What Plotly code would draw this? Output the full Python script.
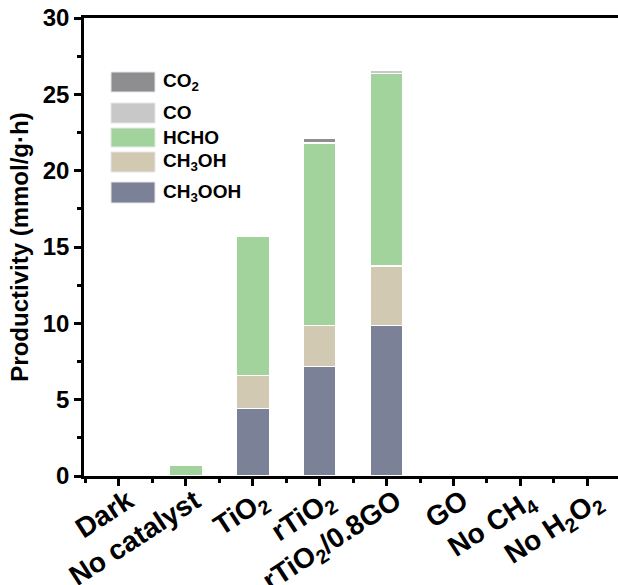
import plotly.graph_objects as go

# Reaction conditions / catalysts
categories = ["Dark", "No catalyst", "TiO<sub>2</sub>", "rTiO<sub>2</sub>",
              "rTiO<sub>2</sub>/0.8GO", "GO", "No CH<sub>4</sub>",
              "No H<sub>2</sub>O<sub>2</sub>"]

# Product yields (mmol/g·h), stacked bottom to top
ch3ooh = [0, 0, 4.42, 7.18, 9.88, 0, 0, 0]
ch3oh = [0, 0, 2.18, 2.68, 3.88, 0, 0, 0]
hcho = [0, 0.70, 9.08, 11.92, 12.58, 0, 0, 0]
co = [0, 0, 0, 0.05, 0.20, 0, 0, 0]
co2 = [0, 0, 0, 0.28, 0.06, 0, 0, 0]

series = [
    ("CH<sub>3</sub>OOH", ch3ooh, "#7b8197"),
    ("CH<sub>3</sub>OH", ch3oh, "#d2c9b3"),
    ("HCHO", hcho, "#a3d39c"),
    ("CO", co, "#c8c8c8"),
    ("CO<sub>2</sub>", co2, "#8e8e91"),
]

FONT = "Liberation Sans, Arial, sans-serif"
xpos = list(range(len(categories)))

fig = go.Figure()
for name, vals, color in series:
    fig.add_trace(go.Bar(
        x=xpos, y=vals, name=name, width=0.49,
        marker=dict(color=color, line=dict(color="white", width=1.2)),
        showlegend=False,
    ))

# Hand-built legend with wide swatches (top entry first)
W, H = 618, 585
L, R, T, B = 84, 0, 18, 109
pw, ph = W - L - R, H - T - B


def px_x(x):
    return (x - L) / pw


def px_y(y):
    return (H - B - y) / ph


legend_rows = [(72, 92), (103, 123), (128, 147), (152, 172), (182, 203)]
for (name, vals, color), (y0, y1) in zip(reversed(series), legend_rows):
    fig.add_shape(type="rect", xref="paper", yref="paper",
                  x0=px_x(111), x1=px_x(155), y0=px_y(y1), y1=px_y(y0),
                  fillcolor=color, line=dict(color="#e6e6e6", width=1))
    fig.add_annotation(xref="paper", yref="paper", x=px_x(161),
                       y=px_y((y0 + y1) / 2), text=name, showarrow=False,
                       xanchor="left", yanchor="middle",
                       font=dict(family=FONT, size=19, color="black",
                                 weight="bold"))

fig.update_layout(
    barmode="stack",
    width=W, height=H,
    margin=dict(l=L, r=R, t=T, b=B, pad=0, autoexpand=False),
    paper_bgcolor="white", plot_bgcolor="white",
    showlegend=False,
    font=dict(family=FONT, color="black"),
)

fig.update_xaxes(
    range=[-0.523, 7.459],
    tickmode="array", tickvals=xpos, ticktext=categories,
    tickangle=-33, automargin=False,
    ticklabelshift=9, ticklabelstandoff=-12,
    tickfont=dict(family=FONT, size=28, color="black", weight="bold"),
    ticks="outside", ticklen=7, tickwidth=2.5, tickcolor="black",
    minor=dict(tick0=0.5, dtick=1, ticks="outside", ticklen=4,
               tickwidth=2.5, tickcolor="black"),
    showline=True, linewidth=2.5, linecolor="black", mirror=True,
    showgrid=False, zeroline=False,
)

fig.update_yaxes(
    range=[0, 30], dtick=5, tick0=0, automargin=False,
    tickfont=dict(family=FONT, size=24, color="black", weight="bold"),
    ticks="outside", ticklen=7, tickwidth=2.5, tickcolor="black",
    minor=dict(dtick=2.5, ticks="outside", ticklen=4, tickwidth=2.5,
               tickcolor="black"),
    showline=True, linewidth=2.5, linecolor="black", mirror=False,
    showgrid=False, zeroline=False,
    title=dict(text="Productivity (mmol/g·h)", standoff=8,
               font=dict(family=FONT, size=24, color="black",
                         weight="bold")),
)

fig.write_html("out.html")
